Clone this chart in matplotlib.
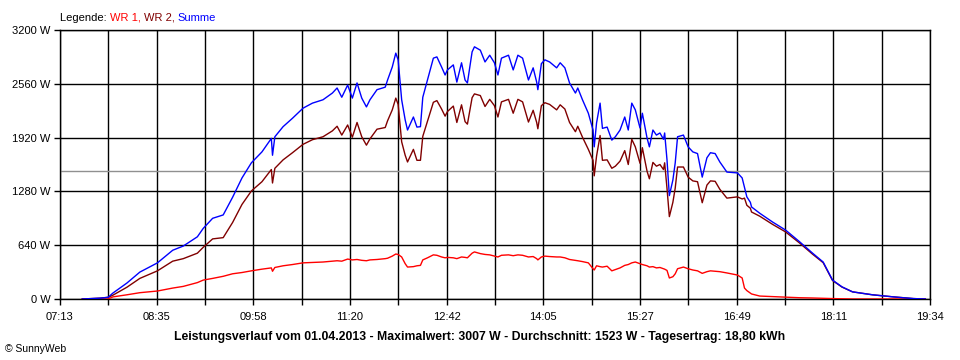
import matplotlib
matplotlib.use("Agg")
import matplotlib.pyplot as plt
from matplotlib.offsetbox import TextArea, HPacker, AnchoredOffsetbox

# ---------- DATA (01.04.2013) ----------
times = ["07:32", "07:47", "07:54", "07:58", "08:10", "08:21", "08:36", "08:49", "08:58", "09:10",
         "09:15", "09:23", "09:32", "09:40", "09:48", "09:56", "10:05", "10:13", "10:14", "10:16",
         "10:23", "10:31", "10:40", "10:48", "10:57", "11:05", "11:09", "11:13", "11:18", "11:22",
         "11:26", "11:30", "11:34", "11:37", "11:43", "11:50", "11:52", "11:56", "11:59", "12:01",
         "12:04", "12:07", "12:09", "12:14", "12:17", "12:20", "12:22", "12:26", "12:31", "12:34",
         "12:38", "12:41", "12:43", "12:48", "12:51", "12:55", "12:58", "13:00", "13:04", "13:06",
         "13:11", "13:15", "13:19", "13:23", "13:26", "13:29", "13:35", "13:39", "13:43", "13:47",
         "13:52", "13:56", "13:59", "14:00", "14:03", "14:06", "14:10", "14:16", "14:19", "14:23",
         "14:27", "14:32", "14:34", "14:38", "14:43", "14:47", "14:48", "14:50", "14:53", "14:55",
         "14:59", "15:03", "15:06", "15:10", "15:14", "15:17", "15:20", "15:23", "15:27", "15:29",
         "15:33", "15:35", "15:38", "15:41", "15:44", "15:47", "15:48", "15:50", "15:52", "15:55",
         "15:57", "15:59", "16:04", "16:08", "16:12", "16:16", "16:20", "16:24", "16:27", "16:31",
         "16:35", "16:41", "16:50", "16:54", "16:56", "16:58", "17:01", "17:02", "17:09", "17:20",
         "17:24", "17:31", "17:43", "17:54", "18:03", "18:11", "18:19", "18:28", "18:45", "19:03",
         "19:20", "19:30"]

wr1 = [0, 0, 0, 25, 50, 75, 95, 130, 150, 195,
       225, 245, 270, 300, 315, 335, 355, 370, 330, 375,
       395, 410, 430, 435, 440, 450, 455, 450, 475, 465,
       470, 460, 455, 465, 470, 480, 485, 510, 535, 530,
       500, 420, 380, 385, 395, 400, 465, 490, 525, 520,
       500, 490, 495, 490, 480, 500, 495, 490, 545, 560,
       540, 530, 525, 510, 500, 520, 525, 515, 525, 520,
       500, 505, 480, 465, 500, 510, 505, 500, 500, 490,
       470, 460, 455, 445, 430, 360, 345, 395, 385, 380,
       390, 335, 350, 370, 400, 410, 430, 440, 420, 410,
       395, 380, 385, 370, 375, 360, 355, 340, 250, 265,
       300, 360, 380, 360, 345, 335, 305, 325, 335, 330,
       325, 310, 285, 250, 130, 100, 70, 60, 35, 28,
       25, 22, 15, 12, 8, 5, 3, 0, 0, 0,
       0, 0]

wr2 = [0, 10, 20, 45, 140, 245, 335, 450, 480, 545,
       615, 715, 730, 910, 1125, 1285, 1395, 1540, 1380, 1555,
       1655, 1740, 1840, 1895, 1930, 2000, 2055, 1950, 2070, 1925,
       2100, 1930, 1830, 1905, 2020, 2040, 2120, 2250, 2390, 2315,
       1870, 1710, 1630, 1780, 1650, 1650, 1935, 2115, 2340, 2360,
       2260, 2175, 2230, 2295, 2100, 2310, 2110, 2080, 2395, 2440,
       2420, 2290, 2375, 2300, 2165, 2345, 2375, 2210, 2375, 2345,
       2105, 2245, 2100, 2025, 2300, 2335, 2315, 2250, 2310, 2260,
       2100, 1990, 2055, 1925, 1780, 1650, 1465, 1700, 1945, 1650,
       1655, 1555, 1580, 1640, 1765, 1600, 1900, 1810, 1615, 1800,
       1520, 1430, 1625, 1580, 1600, 1540, 1620, 1315, 980, 1150,
       1320, 1570, 1570, 1450, 1405, 1395, 1145, 1355, 1405, 1400,
       1305, 1200, 1215, 1190, 1200, 1115, 1080, 1035, 985, 887,
       855, 798, 665, 533, 432, 220, 142, 85, 50, 25,
       5, 0]

summe = [a + b for a, b in zip(wr1, wr2)]

average = 1523
tick_labels = ["07:13", "08:35", "09:58", "11:20", "12:42", "14:05", "15:27", "16:49", "18:11", "19:34"]
y_ticks = [0, 640, 1280, 1920, 2560, 3200]
title = ("Leistungsverlauf vom 01.04.2013 - Maximalwert: 3007 W - "
         "Durchschnitt: 1523 W - Tagesertrag: 18,80 kWh")


def to_min(s):
    h, m = s.split(":")
    return int(h) * 60 + int(m)


t = [to_min(s) for s in times]
t0, t1 = to_min(tick_labels[0]), to_min(tick_labels[-1])
x_ticks = [t0 + k * (t1 - t0) / 18 for k in range(19)]

plt.rcParams["font.family"] = ["Liberation Sans", "DejaVu Sans"]

# ---------- PLOT ----------
fig = plt.figure(figsize=(9.6, 3.6), dpi=100)
ax = fig.add_axes([60 / 960, 1 - 299 / 360, 870 / 960, 269 / 360])

ax.set_xlim(t0, t1)
ax.set_ylim(0, 3200)
ax.set_xticks(x_ticks)
ax.set_xticklabels([tick_labels[k // 2] if k % 2 == 0 else "" for k in range(19)])
ax.set_yticks(y_ticks)
ax.set_yticklabels([f"{v} W" for v in y_ticks])
ax.tick_params(axis="both", direction="out", length=4, width=1, color="black",
               labelsize=8, pad=3)
ax.tick_params(axis="x", pad=5)
ax.grid(True, color="black", linewidth=1)
ax.set_axisbelow(True)
for sp in ax.spines.values():
    sp.set_linewidth(1)

ax.axhline(average, color="#909090", linewidth=1, zorder=1.5)
ax.plot(t, wr1, color="#ff0000", linewidth=1, zorder=3)
ax.plot(t, wr2, color="#800000", linewidth=1, zorder=3)
ax.plot(t, summe, color="#0000ff", linewidth=1, zorder=4)

# legend line: coloured words side by side
parts = [("Legende: ", "black"), ("WR 1, ", "#ff0000"), ("WR 2, ", "#800000"), ("Summe", "#0000ff")]
boxes = [TextArea(s, textprops=dict(color=c, fontsize=8)) for s, c in parts]
leg = AnchoredOffsetbox(loc="lower left", child=HPacker(children=boxes, pad=0, sep=0),
                        bbox_to_anchor=(60 / 960, 1 - 23 / 360), bbox_transform=fig.transFigure,
                        frameon=False, pad=0, borderpad=0)
fig.add_artist(leg)

fig.text(480 / 960, 1 - 337 / 360, title, ha="center", va="center", fontsize=8.8, fontweight="bold")
fig.text(5 / 960, 1 - 349 / 360, "\u00a9 SunnyWeb", ha="left", va="center", fontsize=7.5)

fig.savefig("out.png", dpi=100, facecolor="white")
